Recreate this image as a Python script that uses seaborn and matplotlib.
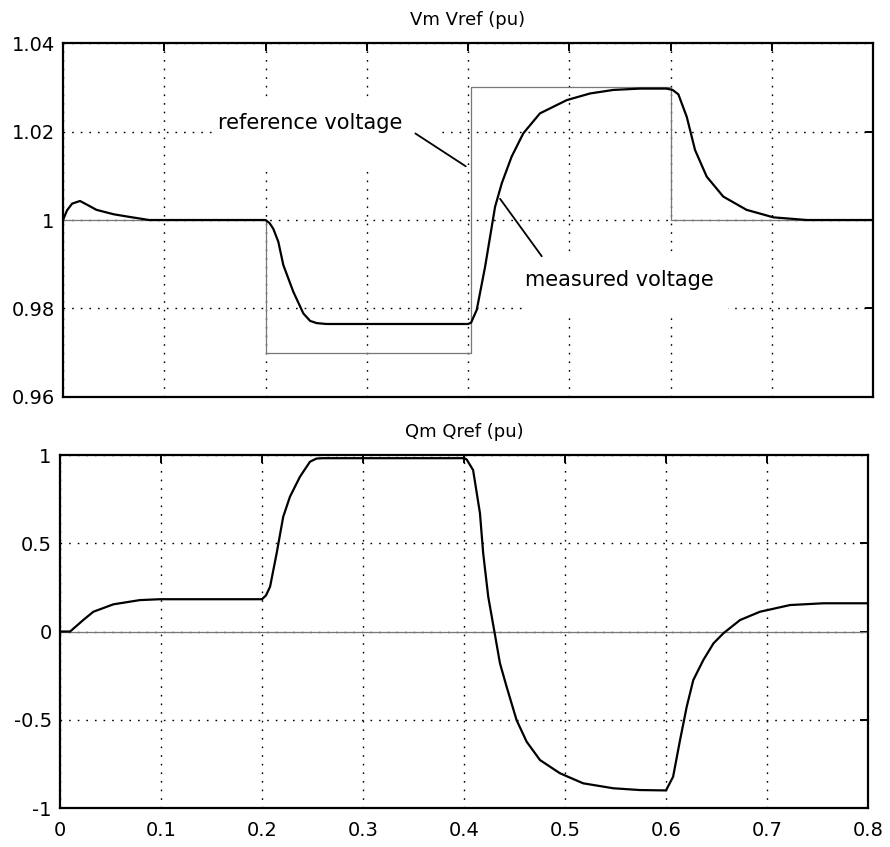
import matplotlib
matplotlib.use("Agg")
import matplotlib.pyplot as plt
import seaborn as sns
from matplotlib.patches import Rectangle

# ---- data ----
t_vm = [0, 0.004, 0.009, 0.0168, 0.025, 0.033, 0.05, 0.063, 0.085, 0.2, 0.204, 0.2077,
        0.2126, 0.2176, 0.2274, 0.2373, 0.244, 0.2505, 0.26, 0.4, 0.403, 0.4086,
        0.4168, 0.4267, 0.4333, 0.443, 0.4546, 0.471, 0.4975, 0.5205, 0.5435, 0.57,
        0.596, 0.602, 0.6077, 0.616, 0.6242, 0.6357, 0.652, 0.675, 0.7016, 0.7345, 0.8]
vm = [1.0, 1.0022, 1.0037, 1.0043, 1.0033, 1.0023, 1.0013, 1.0008, 1.0, 1.0, 0.9993, 0.998,
      0.9951, 0.9898, 0.9838, 0.9789, 0.9772, 0.9767, 0.9765, 0.9765, 0.9768, 0.9797,
      0.9894, 1.003, 1.0083, 1.0143, 1.0196, 1.0241, 1.0271, 1.0286, 1.0294, 1.0297,
      1.0297, 1.0294, 1.0284, 1.0233, 1.0158, 1.0098, 1.0053, 1.0023, 1.0006, 1.0, 1.0]

t_vref = [0, 0.2, 0.403, 0.6, 0.8]
vref = [1.0, 0.97, 1.03, 1.0, 1.0]

t_q = [0, 0.01, 0.023, 0.033, 0.0528, 0.079, 0.099, 0.2, 0.204, 0.208, 0.2145, 0.221,
       0.2277, 0.2376, 0.2475, 0.254, 0.26, 0.4, 0.4026, 0.409, 0.4158, 0.419,
       0.424, 0.4307, 0.4356, 0.4422, 0.452, 0.462, 0.4752, 0.495, 0.518, 0.5478,
       0.574, 0.597, 0.6, 0.607, 0.6139, 0.6205, 0.627, 0.637, 0.647, 0.6568,
       0.6733, 0.693, 0.7228, 0.7558, 0.8]
qm = [0, 0.0, 0.065, 0.112, 0.154, 0.178, 0.183, 0.183, 0.205, 0.254, 0.443, 0.65,
      0.764, 0.877, 0.962, 0.98, 0.982, 0.982, 0.975, 0.915, 0.67, 0.443,
      0.197, -0.02, -0.18, -0.313, -0.501, -0.624, -0.728, -0.803, -0.86, -0.888,
      -0.898, -0.9, -0.9, -0.823, -0.615, -0.426, -0.275, -0.161, -0.067, -0.01,
      0.065, 0.112, 0.15, 0.16, 0.16]

t_qref = [0, 0.8]
qref = [0, 0]

x_ticks = [0, 0.1, 0.2, 0.3, 0.4, 0.5, 0.6, 0.7, 0.8]
x_labels = ["0", "0.1", "0.2", "0.3", "0.4", "0.5", "0.6", "0.7", "0.8"]
v_ticks = [0.96, 0.98, 1.0, 1.02, 1.04]
v_labels = ["0.96", "0.98", "1", "1.02", "1.04"]
q_ticks = [-1, -0.5, 0, 0.5, 1]
q_labels = ["-1", "-0.5", "0", "0.5", "1"]

titles = ["Vm Vref (pu)", "Qm Qref (pu)"]

# ---- style ----
sns.set_style("white")
plt.rcParams["font.family"] = ["DejaVu Sans"]
plt.rcParams["text.color"] = "black"

fig = plt.figure(figsize=(8.9, 8.47), dpi=100)
ax1 = fig.add_axes([0.0708, 0.5313, 0.9102, 0.4179])
ax2 = fig.add_axes([0.0674, 0.046, 0.9079, 0.4168])

grid_kw = dict(color="black", linestyle=(0, (1.2, 5)), linewidth=1.0)

for ax, yt, yl, title in [(ax1, v_ticks, v_labels, titles[0]),
                          (ax2, q_ticks, q_labels, titles[1])]:
    ax.set_xlim(0, 0.8)
    ax.set_ylim(yt[0], yt[-1])
    ax.set_xticks(x_ticks)
    ax.set_yticks(yt)
    ax.set_yticklabels(yl)
    ax.grid(True, **grid_kw)
    ax.set_axisbelow(True)
    for sp in ax.spines.values():
        sp.set_visible(True)
        sp.set_color("black")
        sp.set_linewidth(1.6)
    ax.tick_params(direction="in", length=6, width=1.4, top=True, right=True,
                   labelsize=14, colors="black", pad=6)
    ax.set_title(title, fontsize=13, pad=13, color="black")
    ax.set_xlabel("")
    ax.set_ylabel("")

ax1.set_xticklabels([])
ax2.set_xticklabels(x_labels)
ax2.tick_params(axis="x", pad=9)

# top panel
sns.lineplot(x=t_vref, y=vref, ax=ax1, color="#777777", linewidth=0.9,
             drawstyle="steps-post", estimator=None, sort=False)
sns.lineplot(x=t_vm, y=vm, ax=ax1, color="black", linewidth=1.6,
             estimator=None, sort=False)

# white masks behind annotation texts
ax1.add_patch(Rectangle((0.151, 1.0115), 0.222, 0.0155, facecolor="white",
                        edgecolor="none", zorder=1.5))
ax1.add_patch(Rectangle((0.455, 0.9785), 0.202, 0.0137, facecolor="white",
                        edgecolor="none", zorder=1.5))
ax1.text(0.153, 1.0219, "reference voltage", fontsize=15, va="center", ha="left",
         zorder=3, color="black")
ax1.text(0.456, 0.9864, "measured voltage", fontsize=15, va="center", ha="left",
         zorder=3, color="black")
ax1.annotate("", xy=(0.4, 1.0118), xytext=(0.3457, 1.0199),
             arrowprops=dict(arrowstyle="-", color="black", lw=1.3), zorder=3)
ax1.annotate("", xy=(0.43, 1.0053), xytext=(0.4744, 0.9913),
             arrowprops=dict(arrowstyle="-", color="black", lw=1.3), zorder=3)

# bottom panel
sns.lineplot(x=t_qref, y=qref, ax=ax2, color="#777777", linewidth=0.9,
             estimator=None, sort=False)
sns.lineplot(x=t_q, y=qm, ax=ax2, color="black", linewidth=1.6,
             estimator=None, sort=False)

fig.savefig("out.png", dpi=100, facecolor="white")
